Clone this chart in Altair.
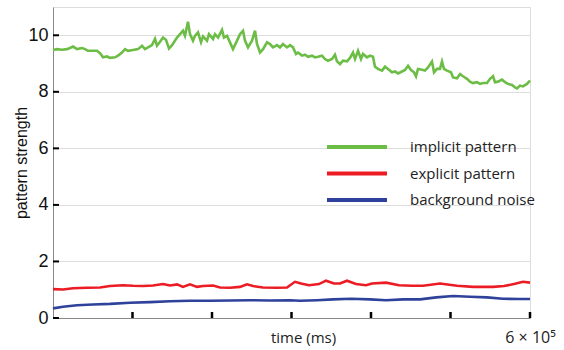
import altair as alt
import pandas as pd

# ---- data (time in ms, pattern strength) ----
implicit_t = [0, 5000, 11300, 17600, 21400, 25200, 30200, 36500, 40300, 44000, 49100, 55300, 59100,
              62900, 67900, 71700, 78000, 81800, 86800, 90600, 94300, 100600, 106900, 112000, 115700,
              119500, 124500, 128300, 130800, 134600, 138400, 142100, 145900, 149700, 156000, 159800,
              163500, 166000, 169800, 172300, 176100, 178600, 182400, 186200, 188700, 193700, 196200,
              201300, 203800, 207600, 212600, 215100, 218900, 222600, 226400, 231500, 235200, 239000,
              241500, 245300, 250300, 254100, 256600, 260400, 264200, 269200, 273000, 276700, 281800,
              285500, 289300, 294300, 298100, 301900, 305700, 308200, 313200, 317000, 320800, 325800,
              329600, 333300, 338400, 342100, 345900, 351000, 354700, 357200, 361000, 364800, 369800,
              373600, 377400, 379900, 383700, 387400, 389900, 395000, 398800, 402500, 405000, 408800,
              413900, 417600, 421400, 426400, 430200, 434000, 439000, 442800, 446600, 450300, 454100,
              456600, 459100, 464200, 467900, 471700, 476700, 479300, 483000, 486800, 489300, 491800,
              495600, 500600, 503200, 508200, 512000, 515700, 520800, 524500, 528300, 533300, 537100,
              540900, 545900, 549700, 553500, 556000, 559800, 564800, 568600, 572300, 577400, 581100,
              583700, 587400, 591200, 596200, 598800, 600000]
implicit_v = [9.48, 9.51, 9.49, 9.51, 9.55, 9.60, 9.51, 9.55, 9.51, 9.45, 9.45, 9.45, 9.37,
              9.22, 9.25, 9.20, 9.22, 9.28, 9.39, 9.51, 9.45, 9.48, 9.51, 9.63, 9.51,
              9.57, 9.65, 9.87, 9.63, 9.77, 9.92, 9.84, 9.53, 9.65, 9.92, 10.04,
              10.16, 9.98, 10.48, 10.04, 9.81, 9.98, 10.10, 9.75, 9.96, 9.81, 10.04,
              9.87, 10.04, 9.92, 10.19, 9.92, 9.98, 9.75, 9.51, 9.81, 10.04, 10.16,
              9.81, 9.57, 9.81, 10.16, 9.69, 9.39, 9.51, 9.75, 9.69, 9.57, 9.65,
              9.57, 9.69, 9.57, 9.65, 9.57, 9.34, 9.39, 9.28, 9.31, 9.24, 9.28,
              9.22, 9.24, 9.28, 9.16, 9.10, 9.16, 9.31, 9.08, 8.98, 9.10, 9.08,
              9.20, 9.39, 9.16, 9.45, 9.16, 9.34, 9.22, 9.28, 9.24, 8.89, 8.81,
              8.75, 8.89, 8.81, 8.69, 8.72, 8.65, 8.72, 8.77, 8.92, 8.77, 8.69,
              8.55, 8.81, 8.78, 8.75, 8.86, 9.07, 8.69, 8.81, 8.81, 9.07, 8.81,
              8.75, 8.69, 8.51, 8.48, 8.63, 8.55, 8.46, 8.36, 8.31, 8.34, 8.28,
              8.31, 8.31, 8.46, 8.55, 8.34, 8.36, 8.43, 8.34, 8.28, 8.24, 8.16,
              8.12, 8.22, 8.19, 8.28, 8.36, 8.40]

explicit_t = [0, 12600, 25200, 42800, 59100, 71700, 88000, 100600, 113200, 125800, 138400, 147200,
              156000, 163500, 172300, 181100, 188700, 201300, 210100, 222600, 235200, 244000, 251600,
              264200, 281800, 294300, 304400, 312000, 322000, 334600, 343400, 353400, 361000, 369800,
              381100, 393700, 401300, 418900, 435300, 451600, 458000, 465500, 486800, 508200, 528300,
              553500, 567300, 579900, 591200, 600000]
explicit_v = [1.02, 1.01, 1.05, 1.07, 1.08, 1.13, 1.16, 1.14, 1.13, 1.15, 1.20, 1.15,
              1.19, 1.10, 1.19, 1.10, 1.13, 1.15, 1.08, 1.07, 1.10, 1.19, 1.13,
              1.08, 1.07, 1.08, 1.28, 1.22, 1.16, 1.20, 1.32, 1.22, 1.22, 1.32,
              1.20, 1.16, 1.22, 1.25, 1.16, 1.14, 1.14, 1.14, 1.22, 1.14, 1.10,
              1.10, 1.13, 1.20, 1.28, 1.25]

noise_t = [0, 12600, 30200, 50300, 71700, 96900, 122000, 147200, 172300, 197500, 222600, 247800,
           272900, 298100, 310700, 332000, 352200, 374900, 398800, 418900, 440300, 461700, 482100,
           503200, 524500, 545900, 566000, 587400, 600000]
noise_v = [0.34, 0.40, 0.45, 0.48, 0.50, 0.54, 0.56, 0.59, 0.61, 0.61, 0.62, 0.63,
           0.62, 0.63, 0.61, 0.63, 0.66, 0.68, 0.66, 0.63, 0.66, 0.66, 0.73,
           0.78, 0.75, 0.73, 0.68, 0.67, 0.67]

series_names = ["implicit pattern", "explicit pattern", "background noise"]
series_colors = ["#6cbd45", "#ec1c24", "#2e429b"]

y_tick_values = [0, 2, 4, 6, 8, 10]
x_tick_values = [100000, 200000, 300000, 400000, 500000, 600000]
x_end_label = "6 × 10⁵"

frames = []
for name, ts, vs in zip(series_names, [implicit_t, explicit_t, noise_t],
                        [implicit_v, explicit_v, noise_v]):
    frames.append(pd.DataFrame({"time": ts, "value": vs, "series": name}))
df = pd.concat(frames, ignore_index=True)

x_scale = alt.Scale(domain=[0, 600000], nice=False, zero=False)
y_scale = alt.Scale(domain=[0, 11], nice=False)

lines = alt.Chart(df).mark_line(strokeWidth=2.6).encode(
    x=alt.X("time:Q", scale=x_scale,
            axis=alt.Axis(values=[600000], labelExpr=f"datum.value == 600000 ? '{x_end_label}' : ''",
                          tickSize=0, labelPadding=24, labelBaseline="alphabetic",
                          labelFlush=False, labelFontSize=16, labelFont="Open Sans",
                          labelColor="#222222",
                          title="time (ms)", titleX=250, titleY=24, titleBaseline="alphabetic",
                          titleFont="Open Sans", titleFontSize=15, titleFontWeight="normal",
                          titleColor="#222222")),
    y=alt.Y("value:Q", scale=y_scale,
            axis=alt.Axis(values=y_tick_values, tickSize=0, labelPadding=5,
                          labelFont="Arial, Liberation Sans", labelFontSize=18, labelColor="#111111",
                          title="pattern strength", titleFont="Arial, Liberation Sans",
                          titleFontSize=16, titleFontWeight="normal", titleColor="#111111",
                          titleX=-32, titleBaseline="middle")),
    color=alt.Color("series:N", sort=series_names,
                    scale=alt.Scale(domain=series_names, range=series_colors),
                    legend=alt.Legend(title=None, orient="none", legendX=292, legendY=128,
                                      symbolType="M-3,0L3,0", symbolStrokeWidth=4, symbolSize=400,
                                      labelFont="Open Sans", labelFontSize=15, labelColor="#222222",
                                      labelOffset=41, rowPadding=6.5)),
)

ytick_df = pd.DataFrame({"v": y_tick_values})
yticks = alt.Chart(ytick_df).mark_rule(color="black", strokeWidth=2).encode(
    y=alt.Y("v:Q", scale=y_scale), x=alt.value(0), x2=alt.value(6))

xtick_df = pd.DataFrame({"t": x_tick_values})
xticks = alt.Chart(xtick_df).mark_rule(color="black", strokeWidth=2.5).encode(
    x=alt.X("t:Q", scale=x_scale), y=alt.value(311), y2=alt.value(305))

chart = alt.layer(lines, yticks, xticks).properties(
    width=477, height=311,
    autosize=alt.AutoSizeParams(type="none"),
    padding={"left": 53, "top": 7, "right": 34, "bottom": 32},
).configure_view(stroke=None).configure_axis(
    domainColor="black", domainWidth=3, grid=False
).configure(background="white")

chart.save("out.html", embed_options={"renderer": "svg", "actions": False})
